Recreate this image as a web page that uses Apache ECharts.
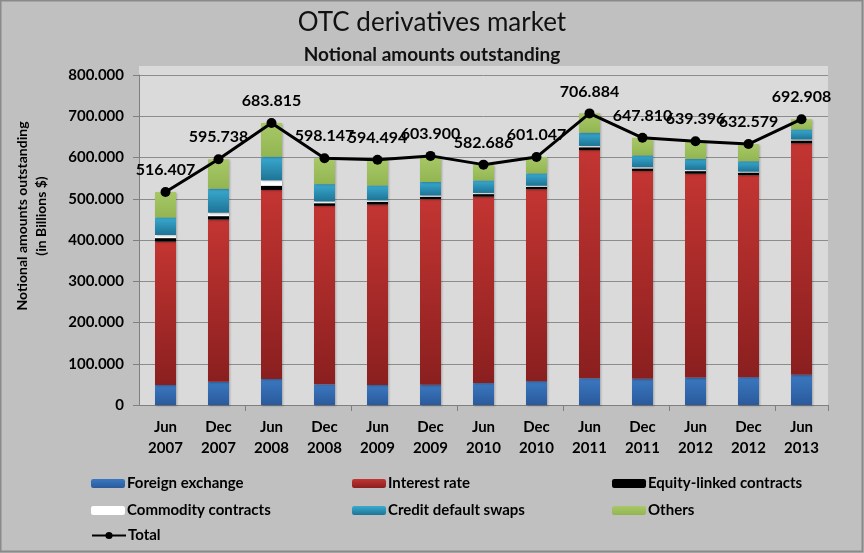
<!DOCTYPE html>
<html><head><meta charset="utf-8">
<script src="https://cdn.jsdelivr.net/npm/echarts@6/dist/echarts.min.js"></script>
<style>html,body{margin:0;padding:0;background:#c0c0c0;}#c{width:864px;height:553px;}</style>
</head><body><div id="c"></div>
<script>
const categories = ['Jun\n2007','Dec\n2007','Jun\n2008','Dec\n2008','Jun\n2009','Dec\n2009','Jun\n2010','Dec\n2010','Jun\n2011','Dec\n2011','Jun\n2012','Dec\n2012','Jun\n2013'];
const foreignExchange = [48645,56238,62983,50042,48732,49181,53153,57796,64698,63349,66645,67358,73121];
const interestRate    = [347312,393138,458304,432657,437228,449875,451831,465260,553240,504117,494018,489703,561299];
const equityLinked    = [8590,8469,10177,6471,6584,5937,6260,5635,6841,5982,6313,6251,6821];
const commodity       = [7567,8455,13229,4427,3619,2944,2852,2922,3197,3091,2994,2587,2458];
const creditDefault   = [42580,58244,57403,41883,36046,32693,30261,29898,32409,28633,26930,25069,24349];
const others          = [61713,71194,81719,62667,62285,63270,38329,39536,46499,42638,42497,41611,24860];
const total           = [516407,595738,683815,598147,594494,603900,582686,601047,706884,647810,639396,632579,692908];
const yTicks = [0,100000,200000,300000,400000,500000,600000,700000,800000];

function fmt(v){ return String(Math.round(v)).replace(/\B(?=(\d{3})+(?!\d))/g,'.'); }
function grad(top,bottom){ return {type:'linear',x:0,y:0,x2:0,y2:1,colorStops:[{offset:0,color:top},{offset:1,color:bottom}]}; }

const FONT = 'Lato';
const chart = echarts.init(document.getElementById('c'), null, {renderer:'canvas'});
function barSeries(name, data, color){
  return {name, type:'bar', stack:'s', data, barWidth:21,
    itemStyle:{color:color, shadowColor:'rgba(0,0,0,0.25)', shadowBlur:2, shadowOffsetX:1, shadowOffsetY:1},
    emphasis:{disabled:true}};
}
const legendPos = [
  ['Foreign exchange',86,471],['Interest rate',347,471],['Equity-linked contracts',607,471],
  ['Commodity contracts',86,498],['Credit default swaps',347,498],['Others',607,498],['Total',86,523]
];
const legends = legendPos.map(([n,l,t]) => ({
  data:[n], left:l, top:t, itemWidth:34, itemHeight:9, itemGap:2,
  textStyle:{fontFamily:FONT, fontSize:15, fontWeight:'bold', color:'#000', padding:[0,0,0,-3]},
  selectedMode:false
}));
chart.setOption({
  backgroundColor:'#c0c0c0',
  animation:false,
  title:[
    {text:'OTC derivatives market', left:'center', top:5, textStyle:{fontFamily:FONT, fontSize:26, fontWeight:'normal', color:'#111'}},
    {text:'Notional amounts outstanding', left:'center', top:40, textStyle:{fontFamily:FONT, fontSize:19, fontWeight:'bold', color:'#111'}}
  ],
  legend: legends,
  grid:{left:139, right:36, top:75, bottom:148, show:false},
  xAxis:{type:'category', data:categories,
    axisLine:{lineStyle:{color:'#7f7f7f', width:1}},
    axisTick:{show:true, length:6, interval:(i)=> i>0 && i%2===0, lineStyle:{color:'#7f7f7f'}},
    axisLabel:{interval:0, fontFamily:FONT, fontSize:15, fontWeight:'bold', color:'#000', lineHeight:21, margin:12}
  },
  yAxis:{type:'value', min:yTicks[0], max:yTicks[yTicks.length-1], interval:100000,
    name:'Notional amounts outstanding\n(in Billions $)', nameLocation:'middle', nameGap:88, nameRotate:90,
    nameTextStyle:{fontFamily:FONT, fontSize:14, fontWeight:'bold', color:'#000', lineHeight:19, padding:[0,0,0,48]},
    axisLine:{show:true, lineStyle:{color:'#7f7f7f'}},
    axisTick:{show:true, length:6, lineStyle:{color:'#7f7f7f'}},
    splitLine:{lineStyle:{color:'#8c8c8c', width:1}},
    axisLabel:{formatter:(v)=>fmt(v), fontFamily:FONT, fontSize:15, fontWeight:'bold', color:'#000', margin:15}
  },
  series:[
    barSeries('Foreign exchange', foreignExchange, grad('#3b78c0','#2a5a9c')),
    barSeries('Interest rate', interestRate, grad('#c33532','#8a1f1f')),
    barSeries('Equity-linked contracts', equityLinked, '#000000'),
    barSeries('Commodity contracts', commodity, '#ffffff'),
    barSeries('Credit default swaps', creditDefault, grad('#3aaad0','#1d7496')),
    barSeries('Others', others, grad('#a8c866','#92b552')),
    {name:'Total', type:'line', data:total, symbol:'circle', symbolSize:10,
      lineStyle:{color:'#000', width:3}, itemStyle:{color:'#000'},
      label:{show:true, position:'top', distance:9, formatter:(p)=>fmt(p.value), fontFamily:FONT, fontSize:16, fontWeight:'bold', color:'#000'},
      emphasis:{disabled:true}, z:5}
  ],
  graphic:[
    {type:'rect', z:-100, shape:{x:139, y:66, width:689, height:339}, style:{fill:'#dadada'}, silent:true},
    {type:'rect', shape:{x:0.5,y:0.5,width:862,height:551}, style:{fill:'none', stroke:'#8a8a8a', lineWidth:2}, silent:true}
  ]
});
</script></body></html>
